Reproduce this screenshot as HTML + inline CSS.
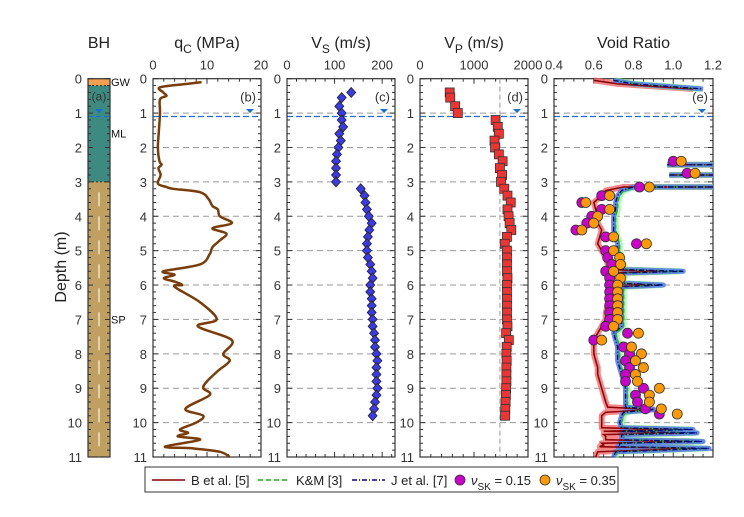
<!DOCTYPE html>
<html><head><meta charset="utf-8"><style>
body{margin:0;background:#fff;}
svg{display:block;font-family:"Liberation Sans",sans-serif;}
</style></head><body>
<svg id="chart" width="744" height="517" viewBox="0 0 744 517" xmlns="http://www.w3.org/2000/svg"></svg>
<script>
// ---- data ----
const qcDepth=[0.1,0.15,0.25,0.4,0.5,0.6,1.0,1.5,2.0,2.4,2.5,2.6,2.8,3.05,3.15,3.2,3.3,3.5,3.7,3.8,4.0,4.2,4.35,4.5,4.7,4.9,5.1,5.4,5.6,5.7,5.8,5.9,6.0,6.05,6.5,7.0,7.2,7.6,8.0,8.2,8.5,8.8,9.0,9.2,9.6,9.8,10.0,10.2,10.3,10.4,10.5,10.7,10.75,10.85,11.0];
const qcVal=[9,6.3,1.3,1.9,2.5,1.3,1.3,1.1,0.9,1.2,1.6,1.0,1.4,0.9,2.5,3.7,8.7,10.3,11,12,12.4,14.6,11,13.6,12.4,11,10.5,8.7,1.9,4,2,4,5.4,4,8.7,11.8,8.3,14.6,13,14.2,12,10,9.3,10.5,6,9.3,8,5,6.5,4.6,8.7,2.2,7.4,12.4,14.2];
const vsDepth=[0.4,0.55,0.8,1.0,1.2,1.4,1.6,1.8,2.0,2.2,2.4,2.6,2.8,3.0,3.2,3.4,3.6,3.8,4.0,4.2,4.4,4.6,4.8,5.0,5.2,5.4,5.6,5.8,6.0,6.2,6.4,6.6,6.8,7.0,7.2,7.4,7.6,7.8,8.0,8.2,8.4,8.6,8.8,9.0,9.2,9.4,9.6,9.8];
const vsVal=[135,115,110,115,115,118,110,113,108,105,103,103,103,103,155,163,165,168,172,178,173,170,168,168,170,175,178,180,175,175,178,178,178,180,180,183,185,185,188,190,188,188,188,190,188,185,183,180];
const vpDepth=[0.4,0.55,0.8,1.0,1.2,1.4,1.6,1.8,2.0,2.2,2.4,2.6,2.8,3.0,3.2,3.4,3.6,3.8,4.0,4.2,4.4,4.6,4.8,5.0,5.2,5.4,5.6,5.8,6.0,6.2,6.4,6.6,6.8,7.0,7.2,7.4,7.6,7.8,8.0,8.2,8.4,8.6,8.8,9.0,9.2,9.4,9.6,9.8];
const vpVal=[550,560,650,700,1400,1440,1460,1380,1390,1460,1530,1480,1520,1500,1560,1620,1680,1620,1640,1660,1690,1610,1570,1610,1610,1610,1610,1620,1610,1610,1610,1610,1610,1610,1620,1595,1645,1606,1600,1605,1600,1600,1600,1595,1590,1585,1580,1575];
const eDepth=[0.05,0.15,0.3,null,2.5,2.5,null,2.8,2.8,null,3.15,3.15,3.25,3.4,3.6,3.8,4.0,4.2,4.4,4.6,4.8,5.0,5.2,5.4,5.55,5.6,5.65,5.8,5.95,6.0,6.05,6.2,6.4,6.6,6.8,7.0,7.2,7.4,7.6,7.8,8.0,8.2,8.4,8.6,8.8,9.0,9.2,9.4,9.55,9.62,9.7,9.8,10.0,10.15,10.2,10.25,10.3,10.35,10.4,10.5,10.55,10.6,10.65,10.7,10.75,10.85,11.0];
const eB=[0.6,0.72,1.1,null,0.97,1.2,null,0.98,1.2,null,1.2,0.75,0.66,0.64,0.6,0.61,0.62,0.62,0.64,0.63,0.62,0.64,0.66,0.67,0.68,0.95,0.68,0.68,0.68,0.9,0.68,0.67,0.67,0.67,0.66,0.66,0.64,0.62,0.6,0.6,0.6,0.61,0.62,0.62,0.63,0.64,0.65,0.66,0.67,0.9,0.66,0.64,0.64,0.64,1.0,0.65,1.05,0.65,0.66,0.66,1.1,0.64,0.65,0.63,1.1,0.62,0.61];
const eJ=[0.7,0.8,1.15,null,0.97,1.2,null,0.98,1.2,null,1.2,0.8,0.74,0.72,0.71,0.71,0.7,0.7,0.7,0.71,0.72,0.72,0.73,0.74,0.75,1.05,0.75,0.74,0.74,0.95,0.74,0.74,0.74,0.74,0.74,0.74,0.74,0.7,0.71,0.72,0.72,0.72,0.73,0.74,0.75,0.76,0.76,0.76,0.76,0.9,0.75,0.74,0.73,0.74,1.1,0.74,1.12,0.74,0.74,0.74,1.15,0.73,0.73,0.72,1.18,0.71,0.7];
const eKM=[0.71,0.81,1.14,null,0.97,1.2,null,0.98,1.2,null,1.2,0.81,0.75,0.73,0.72,0.72,0.71,0.71,0.71,0.72,0.73,0.73,0.74,0.75,0.76,1.04,0.76,0.75,0.75,0.94,0.75,0.75,0.75,0.75,0.75,0.75,0.75,0.71,0.72,0.73,0.73,0.73,0.74,0.75,0.76,0.77,0.77,0.77,0.77,0.89,0.76,0.75,0.74,0.75,1.09,0.75,1.11,0.75,0.75,0.75,1.14,0.74,0.74,0.73,1.17,0.72,0.71];
const p15Depth=[2.4,2.75,3.15,3.4,3.6,3.8,4.0,4.2,4.4,4.6,4.8,5.0,5.2,5.4,5.6,5.8,6.0,6.2,6.4,6.6,6.8,7.0,7.2,7.4,7.6,7.8,8.0,8.2,8.4,8.6,8.8,9.0,9.2,9.4,9.6,9.75];
const p15Val=[1.0,1.07,0.83,0.64,0.54,0.64,0.59,0.565,0.51,0.66,0.815,0.66,0.67,0.69,0.66,0.68,0.68,0.68,0.68,0.68,0.68,0.68,0.66,0.77,0.6,0.75,0.78,0.76,0.78,0.76,0.76,0.85,0.81,0.82,0.86,0.93];
const p35Depth=[2.4,2.75,3.15,3.4,3.6,3.8,4.0,4.2,4.4,4.6,4.8,5.0,5.2,5.4,5.6,5.8,6.0,6.2,6.4,6.6,6.8,7.0,7.2,7.4,7.6,7.8,8.0,8.2,8.4,8.6,8.8,9.0,9.2,9.4,9.6,9.75];
const p35Val=[1.04,1.11,0.88,0.68,0.56,0.68,0.62,0.6,0.54,0.7,0.865,0.7,0.73,0.735,0.7,0.735,0.72,0.72,0.72,0.72,0.72,0.72,0.7,0.825,0.64,0.79,0.84,0.81,0.85,0.81,0.82,0.93,0.88,0.88,0.94,1.02];
const vpRef=1480, waterDepth=1.1;

// ---- layout ----
const NS="http://www.w3.org/2000/svg", svg=document.getElementById('chart');
const Y0=78.7,Y1=457;
const y=d=>Y0+(d/11)*(Y1-Y0);
function mk(tag,attrs,parent,text){const e=document.createElementNS(NS,tag);for(const k in attrs)e.setAttribute(k,attrs[k]);if(text!==undefined)e.textContent=text;(parent||svg).appendChild(e);return e;}
const panels=[
 {id:'b',x0:153,x1:261,min:0,max:20,ticks:[0,10,20],labels:['0','10','20'],minor:2,title:'q',sub:'C',unit:' (MPa)',tag:'(b)'},
 {id:'c',x0:287,x1:395,min:0,max:227,ticks:[0,100,200],labels:['0','100','200'],minor:20,title:'V',sub:'S',unit:' (m/s)',tag:'(c)'},
 {id:'d',x0:420,x1:528,min:0,max:2000,ticks:[0,1000,2000],labels:['0','1000','2000'],minor:200,title:'V',sub:'P',unit:' (m/s)',tag:'(d)'},
 {id:'e',x0:554,x1:713,min:0.4,max:1.2,ticks:[0.4,0.6,0.8,1.0,1.2],labels:['0.4','0.6','0.8','1.0','1.2'],minor:0.05,title:'Void Ratio',sub:'',unit:'',tag:'(e)'}];
panels.forEach(p=>p.x=v=>p.x0+(v-p.min)/(p.max-p.min)*(p.x1-p.x0));

function depthTicks(x0,x1,g){
 for(let d=0;d<=11.001;d+=0.2){const yy=y(d);const maj=Math.abs(d-Math.round(d))<0.01;const L=maj?5:3;
  mk('line',{x1:x0,y1:yy,x2:x0+L,y2:yy,stroke:'#333','stroke-width':1},g);
  mk('line',{x1:x1,y1:yy,x2:x1-L,y2:yy,stroke:'#333','stroke-width':1},g);}
 for(let d=0;d<=11;d++){const t=mk('text',{x:x0-6,y:y(d)+5,'text-anchor':'end','font-size':13,fill:'#333'},g,String(d));}
}
// BH column
const bh=mk('g',{});
mk('rect',{x:88,y:y(0),width:22,height:y(0.2)-y(0),fill:'#f0a050'},bh);
mk('rect',{x:88,y:y(0.2),width:22,height:y(3)-y(0.2),fill:'#3d8a80'},bh);
mk('rect',{x:88,y:y(3),width:22,height:y(11)-y(3),fill:'#c0a060'},bh);
mk('line',{x1:99,y1:y(3.3),x2:99,y2:y(11),stroke:'#fff','stroke-width':1,'stroke-dasharray':'14 10'},bh);
mk('line',{x1:88,y1:y(0.2),x2:110,y2:y(0.2),stroke:'#333','stroke-dasharray':'2 2'},bh);
mk('line',{x1:88,y1:y(3),x2:110,y2:y(3),stroke:'#333','stroke-dasharray':'2 2'},bh);
mk('line',{x1:88,y1:y(waterDepth),x2:110,y2:y(waterDepth),stroke:'#1a6fd0','stroke-dasharray':'5 3'},bh);
mk('polygon',{points:`95,${y(0.88)} 103,${y(0.88)} 99,${y(1.0)}`,fill:'#1a6fd0'},bh);
mk('rect',{x:88,y:y(0),width:22,height:Y1-Y0,fill:'none',stroke:'#333','stroke-width':1.2},bh);
depthTicks(88,110,bh);
mk('text',{x:99,y:Y0+22,'text-anchor':'middle','font-size':12,fill:'#333'},bh,'(a)');
[['GW',0.1],['ML',1.6],['SP',7]].forEach(([t,d])=>{const e=mk('text',{x:111,y:y(d)+4,'font-size':11,fill:'#111'},bh,t);});
const bt=mk('text',{x:99,y:48,'text-anchor':'middle','font-size':16,fill:'#222'},svg,'BH');
const yl=mk('text',{x:0,y:0,transform:'translate(66,267) rotate(-90)','text-anchor':'middle','font-size':16,fill:'#222'},svg,'Depth (m)');

panels.forEach(p=>{
 const g=mk('g',{});
 for(let d=1;d<=10;d++)mk('line',{x1:p.x0,y1:y(d),x2:p.x1,y2:y(d),stroke:'#999','stroke-dasharray':'6 4','stroke-width':1},g);
 mk('line',{x1:p.x0,y1:y(waterDepth),x2:p.x1,y2:y(waterDepth),stroke:'#1a6fd0','stroke-dasharray':'6 3','stroke-width':1.2},g);
 mk('polygon',{points:`${p.x1-15},${y(0.88)} ${p.x1-7},${y(0.88)} ${p.x1-11},${y(1.0)}`,fill:'#1a6fd0'},g);
 mk('rect',{x:p.x0,y:Y0,width:p.x1-p.x0,height:Y1-Y0,fill:'none',stroke:'#333','stroke-width':1.2},g);
 depthTicks(p.x0,p.x1,g);
 for(let v=p.min;v<=p.max+1e-9;v+=p.minor){const xx=p.x(v);const maj=p.ticks.some(t=>Math.abs(t-v)<1e-6);const L=maj?5:3;
  mk('line',{x1:xx,y1:Y0,x2:xx,y2:Y0+L,stroke:'#333'},g);mk('line',{x1:xx,y1:Y1,x2:xx,y2:Y1-L,stroke:'#333'},g);}
 p.ticks.forEach((t,i)=>{const e=mk('text',{x:p.x(t),y:Y0-9,'text-anchor':'middle','font-size':13,fill:'#333'},g,p.labels[i]);});
 const tt=mk('text',{x:(p.x0+p.x1)/2,y:48,'text-anchor':'middle','font-size':16,fill:'#222'},g);
 
 mk('tspan',{},tt,p.title);if(p.sub){mk('tspan',{dy:5,'font-size':12},tt,p.sub);mk('tspan',{dy:-5},tt,p.unit);}
 mk('text',{x:p.x1-5,y:Y0+23,'text-anchor':'end','font-size':13,fill:'#333'},g,p.tag);
 p.g=g;
});
const [pb,pc,pd,pe]=panels;
// qc line (smoothed Catmull-Rom through data points)
const qpts=qcDepth.map((d,i)=>[pb.x(qcVal[i]),y(d)]);
let qpath='M'+qpts[0][0].toFixed(1)+','+qpts[0][1].toFixed(1);
for(let i=0;i<qpts.length-1;i++){const p0=qpts[Math.max(0,i-1)],p1=qpts[i],p2=qpts[i+1],p3=qpts[Math.min(qpts.length-1,i+2)];
 const c1=[p1[0]+(p2[0]-p0[0])/6,p1[1]+(p2[1]-p0[1])/6],c2=[p2[0]-(p3[0]-p1[0])/6,p2[1]-(p3[1]-p1[1])/6];
 qpath+=`C${c1[0].toFixed(1)},${c1[1].toFixed(1)} ${c2[0].toFixed(1)},${c2[1].toFixed(1)} ${p2[0].toFixed(1)},${p2[1].toFixed(1)}`;}
const ql=mk('path',{d:qpath,fill:'none',stroke:'#7a3d0a','stroke-width':2.5,'stroke-linejoin':'round'},pb.g);
// Vs
vsDepth.forEach((d,i)=>{const cx=pc.x(vsVal[i]),cy=y(d);const e=mk('polygon',{points:`${cx},${cy-5} ${cx+4.5},${cy} ${cx},${cy+5} ${cx-4.5},${cy}`,fill:'#3a3ae8',stroke:'#222','stroke-width':0.8},pc.g);});
// Vp
mk('line',{x1:pd.x(vpRef),y1:Y0,x2:pd.x(vpRef),y2:Y1,stroke:'#999','stroke-dasharray':'5 3'},pd.g);
vpDepth.forEach((d,i)=>{const e=mk('rect',{x:pd.x(vpVal[i])-4.5,y:y(d)-4.5,width:9,height:9,fill:'#ee3333',stroke:'#333','stroke-width':0.8},pd.g);});
// void ratio
function ePath(vals){let s='',pen=false;eDepth.forEach((d,i)=>{if(d===null||vals[i]===null){pen=false;return;}s+=(pen?'L':'M')+pe.x(vals[i]).toFixed(1)+','+y(d).toFixed(1);pen=true;});return s;}
function eLine(vals,attrs,name){const e=mk('path',Object.assign({d:ePath(vals),fill:'none'},attrs),pe.g);}
eLine(eB,{stroke:'#f06060','stroke-width':6,'stroke-opacity':0.75,'stroke-linejoin':'round'},'b-band');
eLine(eKM,{stroke:'#7aff7a','stroke-width':6,'stroke-opacity':0.7,'stroke-linejoin':'round'},'km-band');
eLine(eJ,{stroke:'#5577ee','stroke-width':5,'stroke-opacity':0.85,'stroke-linejoin':'round'},'j-band');
eLine(eB,{stroke:'#8b0000','stroke-width':1.5},'b-line');
eLine(eKM,{stroke:'#22aa22','stroke-width':1.5,'stroke-dasharray':'4 3'},'km-line');
eLine(eJ,{stroke:'#000088','stroke-width':1.3,'stroke-dasharray':'5 2 1 2'},'j-line');
p15Depth.forEach((d,i)=>{const e=mk('circle',{cx:pe.x(p15Val[i]),cy:y(d),r:5,fill:'#cc00cc',stroke:'#333','stroke-width':0.8},pe.g);});
p35Depth.forEach((d,i)=>{const e=mk('circle',{cx:pe.x(p35Val[i]),cy:y(d),r:5,fill:'#ff9900',stroke:'#333','stroke-width':0.8},pe.g);});
// legend
const lg=mk('g',{});
mk('rect',{x:145,y:467,width:473,height:25,fill:'#fff',stroke:'#333','stroke-width':1},lg);
const LY=480;
mk('line',{x1:152,y1:LY,x2:185,y2:LY,stroke:'#8b0000','stroke-width':1.5},lg);
mk('text',{x:191,y:LY+5,'font-size':13,fill:'#222'},lg,'B et al. [5]');
mk('line',{x1:258,y1:LY,x2:290,y2:LY,stroke:'#22aa22','stroke-width':1.5,'stroke-dasharray':'5 3'},lg);
mk('text',{x:296,y:LY+5,'font-size':13,fill:'#222'},lg,'K&M [3]');
mk('line',{x1:352,y1:LY,x2:385,y2:LY,stroke:'#000088','stroke-width':1.5,'stroke-dasharray':'5 2 1 2'},lg);
mk('text',{x:391,y:LY+5,'font-size':13,fill:'#222'},lg,'J et al. [7]');
mk('circle',{cx:460,cy:LY,r:5,fill:'#cc00cc',stroke:'#333','stroke-width':0.8},lg);
let t1=mk('text',{x:471,y:LY+5,'font-size':13,fill:'#222'},lg);mk('tspan',{'font-style':'italic'},t1,'ν');mk('tspan',{dy:5,'font-size':10},t1,'SK');mk('tspan',{dy:-5},t1,' = 0.15');
mk('circle',{cx:545,cy:LY,r:5,fill:'#ff9900',stroke:'#333','stroke-width':0.8},lg);
let t2=mk('text',{x:556,y:LY+5,'font-size':13,fill:'#222'},lg);mk('tspan',{'font-style':'italic'},t2,'ν');mk('tspan',{dy:5,'font-size':10},t2,'SK');mk('tspan',{dy:-5},t2,' = 0.35');
</script>
</body></html>
